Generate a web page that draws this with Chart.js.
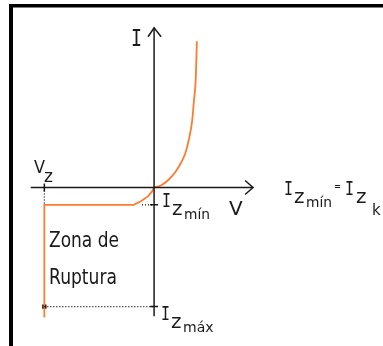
<!DOCTYPE html>
<html>
<head>
<meta charset="utf-8">
<script src="https://cdn.jsdelivr.net/npm/chart.js@4"></script>
<style>
  body { margin: 0; background: #fff; }
  canvas { display: block; }
</style>
</head>
<body>
<canvas id="zener" width="383" height="346"></canvas>
<script>
// forward region (V, I)
const fwdV = [0, 0.31, 0.66, 0.97, 1.19, 1.42, 1.59, 1.73, 1.81, 1.90, 1.95];
const fwdI = [0, 0.16, 0.65, 1.30, 1.95, 2.85, 4.07, 5.53, 7.15, 9.19, 12.28];

// breakdown region (V, I)
const revV = [0, -0.09, -0.27, -0.58, -0.93, -5, -5];
const revI = [0, -0.33, -0.73, -1.14, -1.46, -1.46, -10.9];

// key values
const Vz = -5;
const IzMin = -1.46;
const IzMax = -10;

// axis extents
const axisV = [-5.62, 4.51];
const axisI = [-10.81, 13.41];

const toPts = (xs, ys) => xs.map((x, i) => ({ x: x, y: ys[i] }));

const orange = '#ff7b2e';
const ink = '#1a1a1a';

// frame, arrows and labels
const decorPlugin = {
    id: 'decor',
    afterDatasetsDraw(chart) {
        const ctx = chart.ctx;
        const sx = chart.scales.x;
        const sy = chart.scales.y;
        const px = v => sx.getPixelForValue(v);
        const py = v => sy.getPixelForValue(v);

        ctx.save();
        // frame
        ctx.fillStyle = '#000';
        ctx.fillRect(9, 4, 383, 3.5);
        ctx.fillRect(9, 4, 4, 346);

        // arrow heads
        ctx.strokeStyle = ink;
        ctx.lineWidth = 1.5;
        const tipY = py(axisI[1]);
        const ox = px(0);
        ctx.beginPath();
        ctx.moveTo(ox - 6, tipY + 9);
        ctx.lineTo(ox, tipY);
        ctx.lineTo(ox + 7, tipY + 9);
        ctx.stroke();
        const tipX = px(axisV[1]);
        const oy = py(0);
        ctx.beginPath();
        ctx.moveTo(tipX - 8, oy - 7);
        ctx.lineTo(tipX, oy);
        ctx.lineTo(tipX - 8, oy + 7);
        ctx.stroke();

        // labels
        ctx.fillStyle = ink;
        ctx.textBaseline = 'alphabetic';
        const txt = (s, x, y, font, w) => {
            ctx.font = font;
            if (w) ctx.fillText(s, x, y, w); else ctx.fillText(s, x, y);
        };
        const mono = 'DejaVu Sans Mono';
        const sans = 'DejaVu Sans';

        txt('I', 131, 46, '23px "' + mono + '"', 11);
        txt('V', 229, 215, '20px "' + sans + '"', 18);
        txt('V', 34, 173, '17px "' + sans + '"', 11);
        txt('z', 44, 182, '17px "' + sans + '"', 10);

        const iz = (x, yI, sub, subW) => {
            txt('I', x, yI, '20px "' + mono + '"', 9);
            txt('z', x + 10, yI + 8, '20px "' + sans + '"', 11);
            txt(sub, x + 22, yI + 12, '14px "' + sans + '"', subW);
        };
        iz(162, 207, 'mín', 26);
        iz(161, 320, 'máx', 32);
        iz(284, 195, 'mín', 26);
        txt('=', 334, 190, '12px "' + sans + '"', 7);
        txt('I', 345, 195, '20px "' + mono + '"', 9);
        txt('z', 356, 203, '20px "' + sans + '"', 11);
        txt('k', 372, 215, '15px "' + sans + '"', 9);

        txt('Zona de', 49, 247, '22px "' + sans + '"', 70);
        txt('Ruptura', 49, 284, '22px "' + sans + '"', 68);
        ctx.restore();
    }
};

const dotted = {
    borderColor: '#000',
    borderWidth: 1.2,
    borderDash: [1, 2],
    pointRadius: 0,
    showLine: true,
};

new Chart(document.getElementById('zener'), {
    type: 'scatter',
    data: {
        datasets: [
            {
                label: 'eje V',
                data: toPts(axisV, [0, 0]),
                showLine: true, borderColor: ink, borderWidth: 1.5, pointRadius: 0,
            },
            {
                label: 'eje I',
                data: toPts([0, 0], axisI),
                showLine: true, borderColor: ink, borderWidth: 1.5, pointRadius: 0,
            },
            Object.assign({ label: 'Vz', data: toPts([Vz, Vz], [0, IzMin]) }, dotted),
            Object.assign({ label: 'Izmin', data: toPts([-0.55, 0], [IzMin, IzMin]) }, dotted),
            Object.assign({ label: 'Izmax', data: toPts([Vz, 0], [IzMax, IzMax]) }, dotted),
            {
                label: 'directa',
                data: toPts(fwdV, fwdI),
                showLine: true, borderColor: orange, borderWidth: 1.8, pointRadius: 0,
                cubicInterpolationMode: 'monotone',
            },
            {
                label: 'ruptura',
                data: toPts(revV, revI),
                showLine: true, borderColor: orange, borderWidth: 1.8, pointRadius: 0, tension: 0,
            },
            {
                label: 'marcas',
                data: toPts([Vz, 0, 0], [0, IzMin, IzMax]),
                showLine: false,
                pointStyle: 'line',
                pointRotation: [90, 0, 0],
                pointRadius: 4,
                borderColor: ink,
                borderWidth: 1.5,
            },
            {
                label: 'punto',
                data: toPts([Vz], [IzMax]),
                showLine: false,
                pointStyle: 'rect',
                pointRadius: 3,
                backgroundColor: '#000',
                borderColor: '#000',
                borderWidth: 0,
            },
        ]
    },
    options: {
        responsive: false,
        animation: false,
        devicePixelRatio: 1,
        layout: { padding: 0 },
        plugins: {
            legend: { display: false },
            tooltip: { enabled: false },
        },
        scales: {
            x: { type: 'linear', display: false, min: -6.77, max: 10.18 },
            y: { type: 'linear', display: false, min: -12.85, max: 15.28 },
        }
    },
    plugins: [decorPlugin]
});
</script>
</body>
</html>
